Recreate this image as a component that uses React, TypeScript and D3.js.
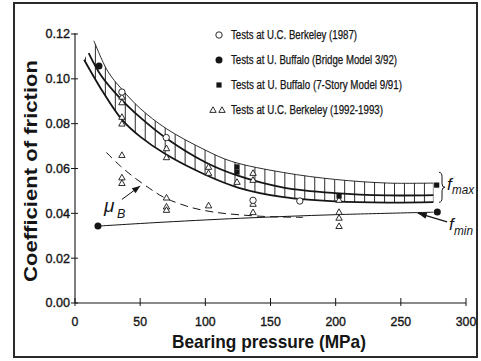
import React from "react";
import * as d3 from "d3";

// ---------- data ----------
const xTicks = [0, 50, 100, 150, 200, 250, 300];
const yTicks = [0, 0.02, 0.04, 0.06, 0.08, 0.1, 0.12];
const yTickLabels = ["0.00", "0.02", "0.04", "0.06", "0.08", "0.10", "0.12"];

const legendLabels = [
  "Tests at U.C. Berkeley (1987)",
  "Tests at U. Buffalo (Bridge Model 3/92)",
  "Tests at U. Buffalo (7-Story Model 9/91)",
  "Tests at U.C. Berkeley (1992-1993)",
];

// [bearing pressure MPa, coefficient of friction]
const berkeley1987: [number, number][] = [
  [36, 0.0941], [70, 0.0738], [136.6, 0.0458], [172.5, 0.0455],
];
const buffaloBridge: [number, number][] = [
  [18.4, 0.1057], [17.6, 0.0343], [278, 0.0406],
];
const buffalo7Story: [number, number][] = [
  [124.3, 0.0607], [124.3, 0.0584], [202.6, 0.0477], [277.5, 0.0526],
];
const berkeley9293: [number, number][] = [
  [36, 0.092], [36, 0.0895], [36, 0.083], [36, 0.08], [36, 0.066], [36, 0.056], [36, 0.0535],
  [70.2, 0.069], [70.2, 0.065], [70.2, 0.047], [70.2, 0.043], [70.2, 0.0415],
  [102.5, 0.0607], [102.5, 0.058], [102.5, 0.0435],
  [124.3, 0.054],
  [136.6, 0.058], [136.6, 0.0549], [136.6, 0.0442], [136.6, 0.0405],
  [202.6, 0.046], [202.6, 0.0406], [202.6, 0.038], [202.6, 0.0343],
];

const fmaxUpper: [number, number][] = [
  [14.5, 0.117], [25, 0.1035], [36, 0.0953], [50, 0.0868], [70, 0.0778], [100, 0.0682],
  [120, 0.0632], [160, 0.0582], [200, 0.0551], [240, 0.0535], [275, 0.0535],
];
const fmaxMiddle: [number, number][] = [
  [10.5, 0.1115], [20, 0.1015], [36, 0.0905], [50, 0.0828], [70, 0.0735], [100, 0.0628],
  [125, 0.0568], [160, 0.0515], [200, 0.049], [240, 0.048], [275, 0.0481],
];
const fmaxLower: [number, number][] = [
  [7, 0.1085], [20, 0.0955], [36, 0.0818], [50, 0.0742], [70, 0.0662], [100, 0.0572],
  [125, 0.0515], [160, 0.0472], [200, 0.0453], [240, 0.0448], [275, 0.045],
];
const muB: [number, number][] = [
  [24, 0.0672], [35, 0.061], [45, 0.0562], [57, 0.0512], [68, 0.0472], [88, 0.0428],
  [106, 0.0406], [127, 0.0393], [150, 0.0385], [175, 0.0382],
];
const fmin: [number, number][] = [
  [17.6, 0.0343], [60, 0.0358], [127, 0.0378], [200, 0.0394], [275, 0.0405],
];

const hatchStart = 8;
const hatchEnd = 275;
const hatchStep = 7.65;

// ---------- layout ----------
const W = 481;
const H = 361;
const x = d3.scaleLinear().domain([0, 300]).range([75, 466]);
const y = d3.scaleLinear().domain([0, 0.12]).range([303, 34]);

const INK = "#151515";
const FONT = "'Liberation Sans', Arial, Helvetica, sans-serif";

const line = d3
  .line<[number, number]>()
  .x((d) => x(d[0]))
  .y((d) => y(d[1]))
  .curve(d3.curveCatmullRom.alpha(0.5));

function Triangle({ cx, cy }: { cx: number; cy: number }) {
  const s = 3.2;
  return (
    <path
      d={`M${cx},${cy - s}L${cx + s},${cy + s * 0.75}L${cx - s},${cy + s * 0.75}Z`}
      fill="white"
      stroke={INK}
      strokeWidth={0.9}
    />
  );
}

export default function App() {
  const upperPath = line(fmaxUpper) as string;
  const lowerRev = (line([...fmaxLower].reverse()) as string).replace(/^M/, "L");
  const bandPath = upperPath + lowerRev + "Z";
  const hatchXs = d3.range(hatchStart, hatchEnd, hatchStep).concat([hatchEnd]);

  const legendY = [35, 60, 85, 110];
  const legendW = [126, 166, 171, 152];

  // annotation anchors in data space
  const muTip: [number, number] = [50, 0.0522];
  const muTail: [number, number] = [36, 0.0462];
  const fminTip: [number, number] = [263, 0.0401];
  const fminTail: [number, number] = [285.5, 0.0362];

  const arrowHead = (tail: [number, number], tip: [number, number], len = 8, wid = 3.2) => {
    const x1 = x(tail[0]), y1 = y(tail[1]), x2 = x(tip[0]), y2 = y(tip[1]);
    const dx = x2 - x1, dy = y2 - y1;
    const L = Math.hypot(dx, dy);
    const ux = dx / L, uy = dy / L;
    const bx = x2 - ux * len, by = y2 - uy * len;
    return `M${x2},${y2}L${bx - uy * wid},${by + ux * wid}L${bx + uy * wid},${by - ux * wid}Z`;
  };

  const txtStroke = { stroke: INK, strokeWidth: 0.35 };

  return (
    <svg
      width={W}
      height={H}
      style={{ position: "absolute", left: 0, top: 0, background: "white" }}
      fontFamily={FONT}
    >
      <defs>
        <clipPath id="band">
          <path d={bandPath} />
        </clipPath>
      </defs>
      <rect x={0} y={0} width={W} height={H} fill="white" />
      <rect x={14} y={3} width={463} height={354} fill="none" stroke="#2a2a2a" strokeWidth={2} />

      {/* axes */}
      <line x1={x(0)} x2={x(300)} y1={y(0)} y2={y(0)} stroke={INK} strokeWidth={1.2} />
      <line x1={x(0)} x2={x(0)} y1={y(0)} y2={y(0.12) - 1} stroke={INK} strokeWidth={1.1} />
      {yTicks.map((t, i) => (
        <g key={"yt" + i}>
          <line x1={x(0) - 4} x2={x(0) + 3} y1={y(t)} y2={y(t)} stroke={INK} strokeWidth={1} />
          <text
            x={70}
            y={y(t) + 4.4}
            textAnchor="end"
            fontSize={12.3}
            fill={INK}
            textLength={24.5}
            lengthAdjust="spacingAndGlyphs"
            {...txtStroke}
          >
            {yTickLabels[i]}
          </text>
        </g>
      ))}
      {xTicks.map((t) => (
        <g key={"xt" + t}>
          <line x1={x(t)} x2={x(t)} y1={y(0) - 5} y2={y(0) + 3} stroke={INK} strokeWidth={1} />
          <text x={x(t)} y={326} textAnchor="middle" fontSize={12.3} fill={INK} {...txtStroke}>
            {t}
          </text>
        </g>
      ))}
      <text
        x={269}
        y={348}
        textAnchor="middle"
        fontSize={19}
        fontWeight="bold"
        fill={INK}
        textLength={194}
        lengthAdjust="spacingAndGlyphs"
      >
        Bearing pressure (MPa)
      </text>
      <text
        transform="translate(37,171) rotate(-90)"
        textAnchor="middle"
        fontSize={19}
        fontWeight="bold"
        fill={INK}
        textLength={222}
        lengthAdjust="spacingAndGlyphs"
      >
        Coefficient of friction
      </text>

      {/* hatched band */}
      <g clipPath="url(#band)">
        {hatchXs.map((h, i) => (
          <line key={"h" + i} x1={x(h)} x2={x(h)} y1={y(0.125)} y2={y(0.03)} stroke={INK} strokeWidth={0.9} />
        ))}
      </g>
      <path d={upperPath} fill="none" stroke={INK} strokeWidth={0.9} />
      <path d={line(fmaxMiddle) as string} fill="none" stroke={INK} strokeWidth={1.8} />
      <path d={line(fmaxLower) as string} fill="none" stroke={INK} strokeWidth={1.8} />

      {/* mu_B and f_min */}
      <path d={line(muB) as string} fill="none" stroke={INK} strokeWidth={1} strokeDasharray="8 5" />
      <path d={line(fmin) as string} fill="none" stroke={INK} strokeWidth={1} />

      {/* markers */}
      {berkeley9293.map((d, i) => (
        <Triangle key={"t" + i} cx={x(d[0])} cy={y(d[1])} />
      ))}
      {berkeley1987.map((d, i) => (
        <circle key={"c" + i} cx={x(d[0])} cy={y(d[1])} r={3.2} fill="white" stroke={INK} strokeWidth={0.9} />
      ))}
      {buffaloBridge.map((d, i) => (
        <circle key={"b" + i} cx={x(d[0])} cy={y(d[1])} r={3.5} fill={INK} />
      ))}
      {buffalo7Story.map((d, i) => (
        <rect key={"s" + i} x={x(d[0]) - 2.6} y={y(d[1]) - 2.6} width={5.2} height={5.2} fill={INK} />
      ))}

      {/* annotations */}
      <line x1={x(muTail[0])} y1={y(muTail[1])} x2={x(muTip[0])} y2={y(muTip[1])} stroke={INK} strokeWidth={1} />
      <path d={arrowHead(muTail, muTip)} fill={INK} />
      <text x={104} y={212} fontSize={19} fontStyle="italic" fill={INK}>μ</text>
      <text x={117} y={218} fontSize={12.5} fontStyle="italic" fill={INK}>B</text>

      <path
        d={`M${x(277) + 3},${y(0.0583)} q3,0 3,4.5 v7 q0,3.5 3,3.5 q-3,0 -3,3.5 v7 q0,4.5 -3,4.5`}
        fill="none"
        stroke={INK}
        strokeWidth={1}
      />
      <text x={447} y={190} fontSize={17} fontStyle="italic" fill={INK}>f</text>
      <text x={452} y={194} fontSize={12.5} fontStyle="italic" fill={INK} textLength={22} lengthAdjust="spacingAndGlyphs">max</text>

      <line x1={x(fminTail[0])} y1={y(fminTail[1])} x2={x(fminTip[0])} y2={y(fminTip[1])} stroke={INK} strokeWidth={1.2} />
      <path d={arrowHead(fminTail, fminTip, 9, 3.2)} fill={INK} />
      <text x={449} y={230} fontSize={17} fontStyle="italic" fill={INK}>f</text>
      <text x={454} y={235} fontSize={12.5} fontStyle="italic" fill={INK} textLength={19} lengthAdjust="spacingAndGlyphs">min</text>

      {/* legend */}
      <circle cx={219} cy={legendY[0]} r={3.2} fill="white" stroke={INK} strokeWidth={0.9} />
      <circle cx={219} cy={legendY[1]} r={3.5} fill={INK} />
      <rect x={216.4} y={legendY[2] - 2.6} width={5.2} height={5.2} fill={INK} />
      <Triangle cx={213} cy={legendY[3]} />
      <Triangle cx={222} cy={legendY[3]} />
      {legendLabels.map((l, i) => (
        <text
          key={"l" + i}
          x={231}
          y={legendY[i] + 4.3}
          fontSize={12}
          fill={INK}
          textLength={legendW[i]}
          lengthAdjust="spacingAndGlyphs"
          stroke={INK}
          strokeWidth={0.25}
        >
          {l}
        </text>
      ))}
    </svg>
  );
}
